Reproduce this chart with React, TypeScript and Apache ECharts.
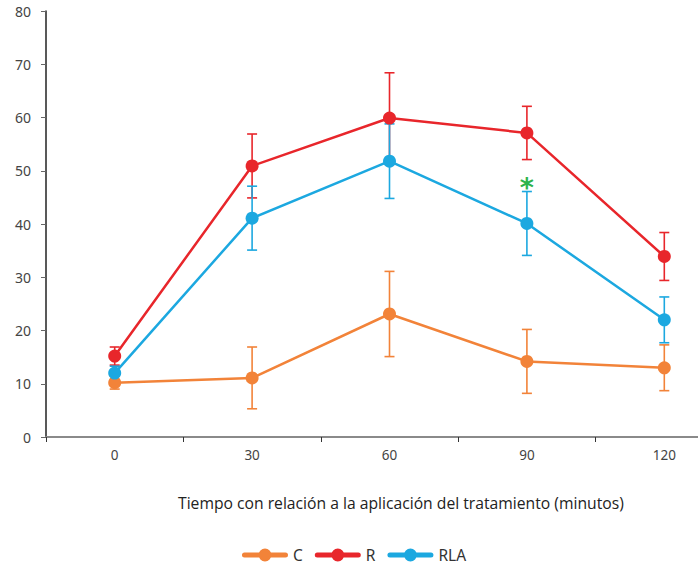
import React, { useEffect, useRef } from "react";
import * as echarts from "echarts";

const categories = ["0", "30", "60", "90", "120"];
const yTicks = [0, 10, 20, 30, 40, 50, 60, 70, 80];

const cValues = [10.2, 11.1, 23.1, 14.2, 13.0];
const cErrors = [1.2, 5.8, 8.0, 6.0, 4.3];
const rValues = [15.2, 50.9, 59.9, 57.1, 33.9];
const rErrors = [1.7, 6.0, 8.5, 5.0, 4.5];
const rlaValues = [12.0, 41.1, 51.8, 40.1, 22.0];
const rlaErrors = [1.3, 6.0, 7.0, 6.0, 4.3];

const significance = { category: "90", value: 47.8, label: "*" };

const COLORS = { C: "#F28339", R: "#E8262B", RLA: "#1CA8E0" };
const FONT = "Noto Sans";
const LEGEND_ICON =
  "path://M2.5,4.5 H43.5 A2.5,2.5 0 0 1 43.5,9.5 H2.5 A2.5,2.5 0 0 1 2.5,4.5 Z M16.5,7 A6.5,6.5 0 1 1 29.5,7 A6.5,6.5 0 1 1 16.5,7 Z";

function errData(values: number[], errs: number[]) {
  return values.map((v, i) => [i, v - errs[i], v + errs[i]]);
}

function errSeries(name: string, color: string, values: number[], errs: number[]) {
  return {
    type: "custom",
    name: name + " error",
    z: 1,
    silent: true,
    data: errData(values, errs),
    encode: { x: 0, y: [1, 2] },
    renderItem: (params: any, api: any) => {
      const x = api.value(0);
      const lo = api.coord([x, api.value(1)]);
      const hi = api.coord([x, api.value(2)]);
      const w = 5;
      const style = { stroke: color, lineWidth: 1.6 };
      return {
        type: "group",
        children: [
          { type: "line", shape: { x1: lo[0], y1: lo[1], x2: hi[0], y2: hi[1] }, style },
          { type: "line", shape: { x1: hi[0] - w, y1: hi[1], x2: hi[0] + w, y2: hi[1] }, style },
          { type: "line", shape: { x1: lo[0] - w, y1: lo[1], x2: lo[0] + w, y2: lo[1] }, style },
        ],
      };
    },
  };
}

function lineSeries(name: string, color: string, values: number[], extra: any = {}) {
  return {
    type: "line",
    name,
    data: values,
    z: 3,
    symbol: "circle",
    symbolSize: 13,
    lineStyle: { color, width: 2.5 },
    itemStyle: { color },
    ...extra,
  };
}

export default function App() {
  const ref = useRef<HTMLDivElement>(null);
  useEffect(() => {
    if (!ref.current) return;
    const chart = echarts.init(ref.current, null, { renderer: "svg", width: 735, height: 571 });
    chart.setOption({
      animation: false,
      grid: { left: 46, right: 2, top: 11, bottom: 134, containLabel: false },
      legend: {
        data: ["C", "R", "RLA"].map((n) => ({ name: n, icon: LEGEND_ICON })),
        left: 237,
        top: 542,
        itemWidth: 46,
        itemHeight: 14,
        itemGap: 12,
        textStyle: { fontFamily: FONT, fontSize: 15.5, color: "#333" },
      },
      xAxis: {
        type: "category",
        data: categories,
        boundaryGap: true,
        axisLine: { lineStyle: { color: "#8a8a8a", width: 2 } },
        axisTick: { show: true, length: 5, lineStyle: { color: "#333", width: 1 } },
        axisLabel: { fontFamily: FONT, fontSize: 13.5, color: "#444", margin: 11 },
        splitLine: { show: false },
      },
      yAxis: {
        type: "value",
        min: yTicks[0],
        max: yTicks[yTicks.length - 1],
        interval: 10,
        axisLine: { show: true, lineStyle: { color: "#222", width: 1.5 } },
        axisTick: { show: true, length: 5, lineStyle: { color: "#666" } },
        axisLabel: { fontFamily: FONT, fontSize: 14, color: "#444", margin: 15 },
        splitLine: { show: false },
      },
      graphic: [
        {
          type: "text",
          left: 178,
          top: 495,
          style: {
            text: "Tiempo con relación a la aplicación del tratamiento (minutos)",
            fontFamily: "Open Sans",
            fontSize: 15.7,
            fill: "#222",
          },
        },
      ],
      series: [
        errSeries("C", COLORS.C, cValues, cErrors),
        errSeries("R", COLORS.R, rValues, rErrors),
        errSeries("RLA", COLORS.RLA, rlaValues, rlaErrors),
        lineSeries("C", COLORS.C, cValues),
        lineSeries("R", COLORS.R, rValues),
        lineSeries("RLA", COLORS.RLA, rlaValues, {
          markPoint: {
            symbol: "circle",
            symbolSize: 0,
            data: [{ coord: [significance.category, significance.value] }],
            label: {
              show: true,
              formatter: significance.label,
              position: "inside",
              fontSize: 27,
              fontWeight: "bold",
              color: "#2DB34A",
              fontFamily: "DejaVu Sans",
              offset: [0, 5],
            },
          },
        }),
      ],
    });
    return () => chart.dispose();
  }, []);
  return (
    <div style={{ width: 698, height: 571, position: "absolute", left: 0, top: 0, overflow: "hidden" }}>
      <div ref={ref} style={{ width: 735, height: 571 }} />
    </div>
  );
}
